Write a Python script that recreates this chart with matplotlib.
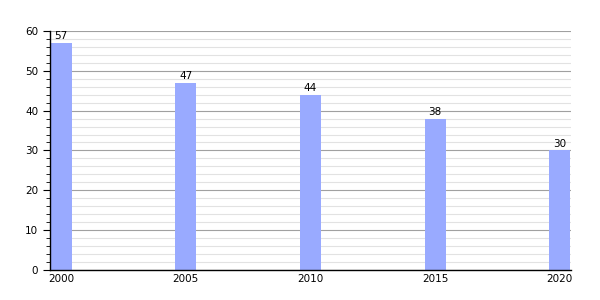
import matplotlib
matplotlib.use("Agg")
import matplotlib.pyplot as plt
import numpy as np

years = [2000, 2005, 2010, 2015, 2020]
values = [57, 47, 44, 38, 30]

fig = plt.figure(figsize=(6, 3), dpi=100)
ax = fig.add_axes([0.0833, 0.1, 0.8683, 0.797])

ax.set_axisbelow(True)
ax.set_yticks(np.arange(0, 61, 10))
ax.set_yticks(np.arange(0, 61, 2), minor=True)
ax.grid(axis="y", which="major", color="#a0a0a0", linewidth=0.8)
ax.grid(axis="y", which="minor", color="#e2e2e2", linewidth=0.8)

ax.bar(years, values, width=0.84, color="#99aaff", zorder=2)
for x, v in zip(years, values):
    ax.text(x, v + 0.4, str(v), ha="center", va="bottom", fontsize=7.5)

ax.set_xlim(1999.55, 2020.45)
ax.set_ylim(0, 60)
ax.set_xticks(years)
ax.set_xticklabels([str(y) for y in years])
ax.tick_params(axis="x", length=0, labelsize=7.5, pad=3)
ax.tick_params(axis="y", which="major", length=5, labelsize=7.5, direction="out")
ax.tick_params(axis="y", which="minor", length=3, direction="out")

for s in ["top", "right"]:
    ax.spines[s].set_visible(False)
ax.spines["left"].set_linewidth(1)
ax.spines["bottom"].set_linewidth(1)

fig.savefig("out.png", dpi=100)
